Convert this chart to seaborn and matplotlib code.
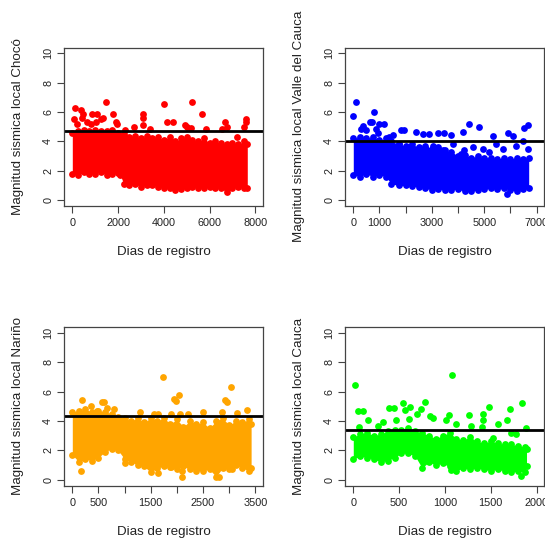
import numpy as np
import matplotlib
matplotlib.use("Agg")
import matplotlib.pyplot as plt
import seaborn as sns

sns.set_style("white")
plt.rcParams['font.family'] = ['Liberation Sans', 'DejaVu Sans']

# ---- Chocó ----
choco_days = [0, 250, 500, 750, 1000, 1250, 1500, 1750, 2000, 2100, 2250, 2500, 2750, 3000,
              3250, 3500, 3750, 4000, 4250, 4500, 4750, 5000, 5250, 5500, 5750, 6000, 6250,
              6500, 6750, 7000, 7250, 7500, 7650]
choco_low = [1.8, 1.7, 1.9, 1.8, 1.8, 1.9, 1.7, 1.8, 1.85, 1.7, 1.1, 1.0, 1.1, 0.9,
             1.0, 1.0, 0.9, 0.85, 0.8, 0.7, 0.75, 0.8, 0.9, 0.85, 0.8, 0.9, 0.85,
             0.8, 0.55, 0.8, 0.9, 0.8, 0.85]
choco_high = [4.6, 4.7, 4.8, 4.7, 4.8, 4.7, 4.7, 4.8, 4.6, 4.4, 4.5, 4.3, 4.4, 4.2,
              4.4, 4.2, 4.3, 4.1, 4.3, 4.0, 4.2, 4.3, 4.1, 4.0, 4.2, 3.9, 4.0,
              3.9, 3.8, 3.9, 3.8, 4.0, 3.8]
choco_out_days = [1459, 118, 395, 467, 876, 1094, 1793, 4008, 5231, 3103, 3103, 5682, 4152,
                  4400, 6687, 7576, 7576, 6775, 4925, 2710, 3074, 75, 440, 658, 1022, 1240,
                  1356, 1895, 1968, 220, 804, 3395, 5027, 5173, 5828, 6556, 7503, 2320, 7212]
choco_out_mag = [6.70, 6.29, 6.13, 5.86, 5.9, 5.9, 5.9, 6.54, 6.66, 5.86, 5.63, 5.86, 5.34,
                 5.34, 5.34, 5.5, 5.34, 4.99, 5.1, 4.95, 5.1, 5.5, 5.6, 5.34, 5.34, 5.5,
                 5.6, 5.34, 5.18, 5.2, 5.2, 4.82, 4.99, 4.9, 4.82, 4.82, 4.99, 4.77, 4.3]
choco_mean = 4.7

# ---- Valle del Cauca ----
valle_days = [0, 250, 500, 750, 1000, 1250, 1450, 1750, 2000, 2250, 2500, 2750, 3000, 3250,
              3500, 3750, 4000, 4250, 4500, 4750, 5000, 5250, 5500, 5750, 6000, 6250, 6500, 6700]
valle_low = [1.7, 1.6, 1.8, 1.6, 1.7, 1.6, 1.1, 1.0, 1.0, 0.95, 0.9, 0.8, 0.7, 0.75,
             0.7, 0.7, 0.75, 0.6, 0.6, 0.7, 0.75, 0.8, 0.75, 0.8, 0.7, 0.6, 0.75, 0.8]
valle_high = [4.2, 4.3, 4.2, 4.3, 4.1, 4.2, 4.0, 3.8, 3.7, 3.8, 3.6, 3.7, 3.5, 3.6,
              3.4, 3.3, 3.0, 3.1, 2.9, 3.0, 2.9, 2.9, 2.8, 2.9, 2.8, 2.9, 2.8, 2.9]
valle_out_days = [104, 0, 778, 638, 713, 383, 994, 1185, 294, 485, 867, 4432, 4814, 4203,
                  6661, 6534, 1822, 1950, 2395, 2650, 2904, 3222, 3477, 3731, 5324, 5922,
                  6088, 1376, 1503, 931, 1758, 2140, 2522, 2777, 3031, 3413, 3795, 4113,
                  4241, 4560, 4942, 5196, 5451, 5706, 6215, 6469, 6661, 5858]
valle_out_mag = [6.66, 5.75, 6.02, 5.34, 5.34, 5.05, 5.2, 5.2, 4.88, 4.77, 4.88, 5.2, 4.95, 4.66,
                 5.12, 4.93, 4.77, 4.77, 4.66, 4.5, 4.5, 4.55, 4.6, 4.43, 4.36, 4.55,
                 4.4, 4.3, 4.43, 4.55, 3.8, 3.6, 3.4, 3.45, 3.68, 3.43, 3.8, 3.16,
                 3.4, 3.6, 3.45, 3.27, 3.8, 3.45, 3.68, 4.0, 3.45, 0.45]
valle_mean = 4.02

# ---- Nariño ----
narino_days = [0, 125, 250, 375, 500, 625, 750, 875, 1000, 1125, 1250, 1375, 1500, 1625,
               1750, 1875, 2000, 2125, 2250, 2375, 2500, 2625, 2750, 2875, 3000, 3125,
               3250, 3375, 3420]
narino_low = [1.7, 1.2, 1.4, 1.3, 1.5, 1.9, 2.1, 2.0, 1.4, 1.2, 1.0, 0.9, 0.5, 0.8,
              0.9, 0.85, 0.7, 0.9, 0.7, 0.6, 0.6, 0.7, 0.2, 0.8, 0.7, 1.0,
              0.8, 0.6, 0.8]
narino_high = [4.6, 4.7, 4.8, 4.6, 4.7, 4.6, 4.5, 4.3, 4.2, 4.0, 4.2, 3.9, 4.2, 4.0,
               4.2, 3.8, 4.1, 3.6, 4.0, 3.8, 3.9, 3.5, 4.0, 4.2, 3.7, 4.0,
               3.9, 4.1, 3.8]
narino_out_days = [1729, 3044, 2041, 1946, 1985, 2928, 2954, 192, 575, 607, 798, 670, 351,
                   479, 1295, 3336, 3157, 2506, 1563, 1646, 1895, 2062, 2215, 2859, 166,
                   2095, 2095, 1891, 1636, 2805, 3048, 1009]
narino_out_mag = [6.98, 6.3, 5.78, 5.49, 5.33, 5.4, 5.26, 5.4, 5.28, 5.28, 4.81, 4.87, 5.03,
                  4.65, 4.58, 4.72, 4.53, 4.58, 4.47, 4.47, 4.47, 4.47, 4.47, 4.58, 0.56,
                  0.15, 0.56, 0.83, 0.47, 0.2, 0.72, 1.15]
narino_mean = 4.31

# ---- Cauca ----
cauca_days = [0, 75, 150, 225, 300, 375, 450, 525, 600, 675, 750, 825, 900, 975, 1050,
              1125, 1200, 1275, 1350, 1425, 1500, 1575, 1650, 1725, 1800, 1875, 1890]
cauca_low = [1.4, 1.6, 1.5, 1.4, 1.2, 1.3, 1.5, 1.8, 1.8, 1.6, 0.8, 1.2, 1.0, 1.1, 0.9,
             0.6, 0.8, 0.7, 0.8, 0.7, 0.6, 0.7, 0.6, 0.5, 0.6, 0.5, 0.9]
cauca_high = [2.9, 3.1, 3.2, 3.0, 3.1, 3.3, 3.4, 3.4, 3.5, 3.3, 3.2, 3.0, 2.8, 3.0, 3.2,
              2.8, 2.7, 2.9, 2.6, 2.5, 2.6, 2.5, 2.4, 2.4, 2.3, 2.2, 2.1]
cauca_out_days = [22, 1077, 48, 102, 393, 448, 539, 619, 783, 738, 691, 567, 840, 866, 1048,
                  1266, 1411, 1484, 1709, 1837, 1411, 1582, 1677, 1884, 1012, 1121, 1284,
                  1404, 157, 66, 320, 466, 612, 266, 1720, 1775, 1520, 1830, 1066]
cauca_out_mag = [6.42, 7.1, 4.69, 4.69, 4.87, 4.87, 5.2, 4.98, 5.28, 4.8, 4.47, 4.72, 4.31, 4.2,
                 4.42, 4.42, 4.49, 4.98, 4.8, 5.2, 4.08, 3.8, 4.04, 3.5, 4.04, 3.8, 3.67,
                 3.62, 4.04, 3.62, 3.9, 4.08, 4.13, 3.67, 3.2, 3.1, 2.86, 0.22, 0.68]
cauca_mean = 3.38

panels = [
    dict(days=choco_days, low=choco_low, high=choco_high, od=choco_out_days, om=choco_out_mag,
         mean=choco_mean, color="#FF0000", ylabel="Magnitud sismica local Chocó",
         xlim=(-350, 8350), ticks=[0, 2000, 4000, 6000, 8000],
         labels=["0", "2000", "4000", "6000", "8000"], pos=(64.3, 47.5)),
    dict(days=valle_days, low=valle_low, high=valle_high, od=valle_out_days, om=valle_out_mag,
         mean=valle_mean, color="#0000FF", ylabel="Magnitud sismica local Valle del Cauca",
         xlim=(-305, 7296), ticks=list(range(0, 7001, 1000)),
         labels=["0", "1000", "", "3000", "", "5000", "", "7000"], pos=(345.3, 47.5)),
    dict(days=narino_days, low=narino_low, high=narino_high, od=narino_out_days, om=narino_out_mag,
         mean=narino_mean, color="#FFA500", ylabel="Magnitud sismica local Nariño",
         xlim=(-153, 3653), ticks=list(range(0, 3501, 500)),
         labels=["0", "500", "", "1500", "", "2500", "", "3500"], pos=(64.3, 327)),
    dict(days=cauca_days, low=cauca_low, high=cauca_high, od=cauca_out_days, om=cauca_out_mag,
         mean=cauca_mean, color="#00FF00", ylabel="Magnitud sismica local Cauca",
         xlim=(-87, 2084), ticks=[0, 500, 1000, 1500, 2000],
         labels=["0", "500", "1000", "1500", "2000"], pos=(345.3, 327)),
]

W, H = 545, 540
fig = plt.figure(figsize=(W / 100, H / 100), dpi=100)
box_w, box_h = 199, 158.5
dot = 24

for p in panels:
    x0, y0 = p["pos"]
    ax = fig.add_axes([x0 / W, 1 - (y0 + box_h) / H, box_w / W, box_h / H])
    ax.fill_between(p["days"], p["low"], p["high"], color=p["color"], lw=0)
    sns.scatterplot(x=p["days"] + p["days"], y=p["low"] + p["high"], color=p["color"],
                    s=dot, linewidth=0, ax=ax, legend=False)
    sns.scatterplot(x=p["od"], y=p["om"], color=p["color"], s=dot, linewidth=0,
                    ax=ax, legend=False)
    ax.axhline(p["mean"], color="black", lw=2.0)
    ax.set_xlim(*p["xlim"])
    ax.set_ylim(-0.4, 10.4)
    ax.set_xticks(p["ticks"])
    ax.set_xticklabels(p["labels"])
    ax.set_yticks([0, 2, 4, 6, 8, 10])
    ax.set_yticklabels(["0", "2", "4", "6", "8", "10"], rotation=90, va="center")
    ax.tick_params(axis="both", direction="out", length=5, width=0.8, color="#444444",
                   labelsize=7.8, labelcolor="#222222", bottom=True, left=True)
    ax.tick_params(axis="x", pad=4)
    ax.tick_params(axis="y", pad=3)
    for s in ax.spines.values():
        s.set_color("#444444")
        s.set_linewidth(0.9)
    ax.set_xlabel("Dias de registro", fontsize=9.6, color="#222222")
    ax.set_ylabel(p["ylabel"], fontsize=9.6, color="#222222")
    ax.xaxis.set_label_coords(0.5, -46 / box_h)
    ax.xaxis.label.set_va("center")
    ax.yaxis.set_label_coords(-46 / box_w, 0.5)
    ax.yaxis.label.set_va("center")

fig.savefig("out.png", dpi=100)
